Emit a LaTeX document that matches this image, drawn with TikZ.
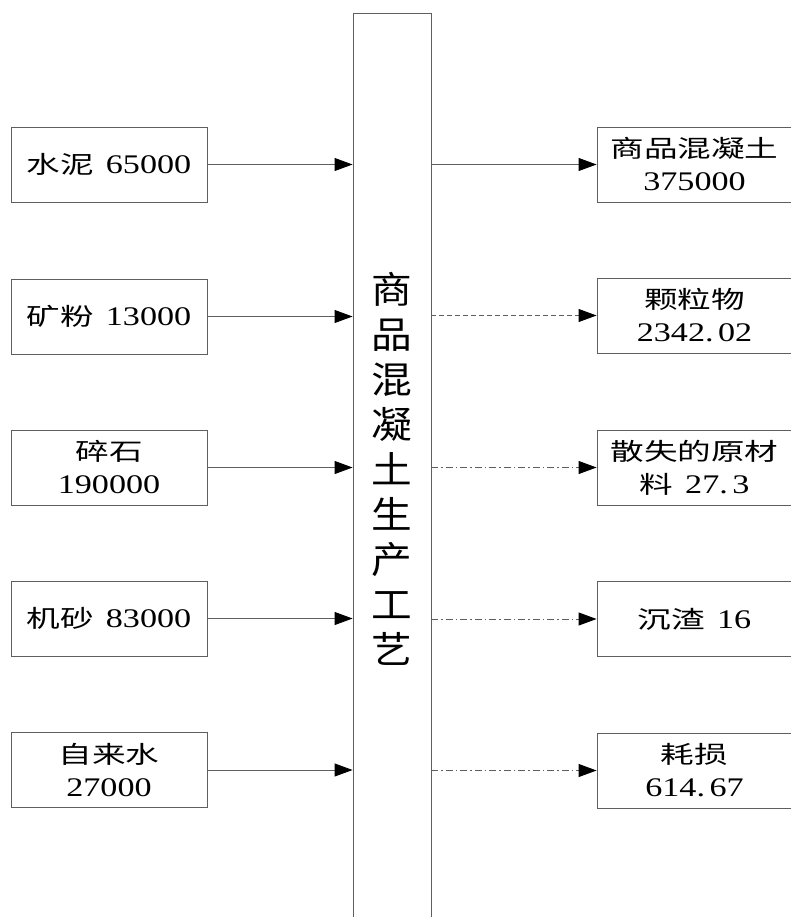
\documentclass[tikz,border=0pt]{standalone}
\usepackage{fontspec}
\setmainfont{Liberation Serif}[Scale=1.12, FakeStretch=1.27]
\newfontfamily\cjk{Noto Sans CJK SC}[FakeStretch=1.4]
\newfontfamily\cjkbig{Noto Sans CJK SC}[FakeStretch=1.1]
\usetikzlibrary{arrows.meta}
\definecolor{linegray}{RGB}{95,95,95}
\tikzset{
  box/.style={draw=linegray, line width=0.9pt, minimum width=196pt, minimum height=75pt,
    inner sep=0pt, align=center, font=\fontsize{24}{33}\selectfont},
  rbox/.style={box, minimum width=195pt},
  arr/.style={draw=linegray, line width=0.9pt, -{Triangle[length=18pt,width=13pt,black]}},
  dsh/.style={arr, dash pattern=on 5pt off 3pt},
  dshdot/.style={arr, dash pattern=on 7pt off 3pt on 1.5pt off 3pt},
}
\begin{document}
\begin{tikzpicture}[x=1pt,y=-1pt]
\useasboundingbox (0,0) rectangle (790,917);
% central process
\node[draw=linegray, line width=0.9pt, minimum width=78pt, minimum height=912pt, inner sep=0pt,
  align=center, font=\cjkbig\fontsize{37}{45}\selectfont] (P) at (392,469)
  {商\\品\\混\\凝\\土\\生\\产\\工\\艺};
% inputs
\node[box] (L1) at (109,164.5) {{\cjk 水泥}\hspace{12pt}65000};
\node[box] (L2) at (109,316.5) {{\cjk 矿粉}\hspace{12pt}13000};
\node[box] (L3) at (109,467.5) {{\cjk 碎石}\\190000};
\node[box] (L4) at (109,618.5) {{\cjk 机砂}\hspace{12pt}83000};
\node[box] (L5) at (109,770) {{\cjk 自来水}\\27000};
% outputs
\node[rbox] (R1) at (694.5,164.5) {{\cjk 商品混凝土}\\375000};
\node[rbox] (R2) at (694.5,315.5) {{\cjk 颗粒物}\\2342.\,02};
\node[rbox] (R3) at (694.5,467.5) {{\cjk 散失的原材}\\{\cjk 料}\hspace{12pt}27.\,3};
\node[rbox] (R4) at (694.5,619) {{\cjk 沉渣}\hspace{12pt}16};
\node[rbox] (R5) at (694.5,770.5) {{\cjk 耗损}\\614.\,67};
% connectors
\foreach \i in {1,...,5} \draw[arr] (L\i.east) -- (L\i.east -| P.west);
\draw[arr] (P.east |- R1.west) -- (R1.west);
\draw[dsh] (P.east |- R2.west) -- (R2.west);
\draw[dshdot] (P.east |- R3.west) -- (R3.west);
\draw[dshdot] (P.east |- R4.west) -- (R4.west);
\draw[dshdot] (P.east |- R5.west) -- (R5.west);
\end{tikzpicture}
\end{document}
